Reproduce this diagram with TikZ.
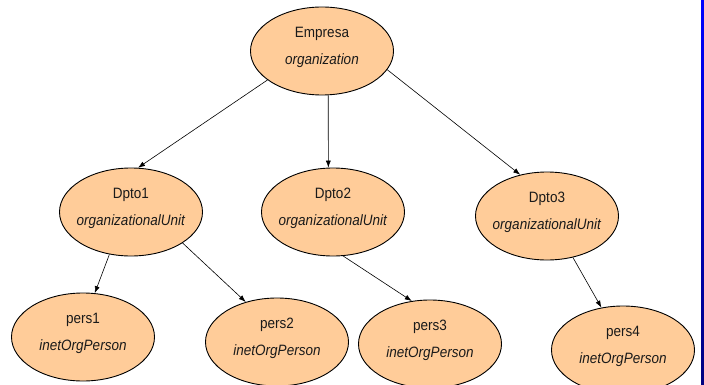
\documentclass[tikz,border=0pt]{standalone}
\usepackage{fontspec}
\setmainfont{Liberation Sans}[FakeStretch=0.9]
\usetikzlibrary{arrows.meta,shapes.geometric}
\definecolor{ldappeach}{HTML}{FFCC99}
\definecolor{ldapink}{HTML}{1A1A1A}
\definecolor{ldapbar}{HTML}{0000FF}
\definecolor{ldapnavy}{HTML}{000080}

\begin{document}
\begin{tikzpicture}[
    x=1pt,y=-1pt,>=Latex,
    entry/.style={ellipse,draw=black,line width=.9pt,fill=ldappeach,
      minimum width=143pt,minimum height=88pt,inner xsep=-14pt,inner ysep=0pt,
      align=center,text depth=11pt,text=ldapink,font=\fontsize{15}{27}\selectfont},
    link/.style={-{Latex[length=7pt,width=5pt]},draw=black,line width=.6pt}
  ]
    \useasboundingbox (0,0) rectangle (704,385);
    \shade[top color=ldapbar,bottom color=ldapnavy] (701,0) rectangle (704,385);
    % tree of entries
    \node[entry] (empresa) at (322,51) {Empresa\\\textit{organization}};
    \node[entry] (dpto1) at (131,212) {Dpto1\\\textit{organizationalUnit}};
    \node[entry] (dpto2) at (333,212) {Dpto2\\\textit{organizationalUnit}};
    \node[entry] (dpto3) at (547,216) {Dpto3\\\textit{organizationalUnit}};
    \node[entry] (pers1) at (83,337) {pers1\\\textit{inetOrgPerson}};
    \node[entry] (pers2) at (277,342) {pers2\\\textit{inetOrgPerson}};
    \node[entry] (pers3) at (430,344) {pers3\\\textit{inetOrgPerson}};
    \node[entry] (pers4) at (623,350) {pers4\\\textit{inetOrgPerson}};
    \draw[link] (empresa.208) -- (dpto1.81);
    \draw[link] (empresa.-82) -- (dpto2.96);
    \draw[link] (empresa.-16) -- (dpto3.123);
    \draw[link] (dpto1.-117) -- (pers1.75);
    \draw[link] (dpto1.-31) -- (pers2.128);
    \draw[link] (dpto2.-77) -- (pers3.113);
    \draw[link] (dpto3.-58) -- (pers4.117);
\end{tikzpicture}
\end{document}
